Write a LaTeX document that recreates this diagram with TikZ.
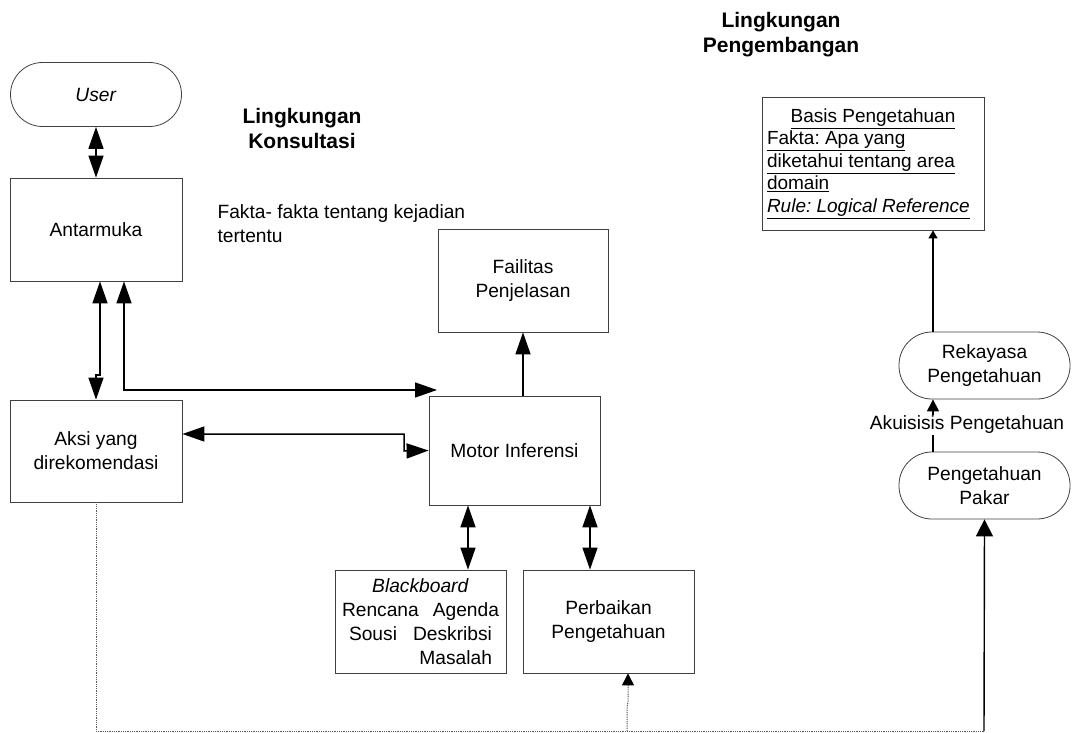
\documentclass[tikz,border=0pt]{standalone}
\usepackage{fontspec}
\setmainfont{Liberation Sans}
\usetikzlibrary{arrows.meta}
\frenchspacing
\begin{document}
\begin{tikzpicture}[x=1pt,y=-1pt,
  every node/.style={font=\fontsize{19.2}{24}\selectfont},
  box/.style={draw=black!75, line width=0.8pt, align=center, inner sep=2pt},
  term/.style={box, rounded corners=32pt},
  conn/.style={line width=1.5pt, black},
  both/.style={conn, {Triangle[length=22pt,width=15pt]}-{Triangle[length=22pt,width=15pt]}},
  fwd/.style={conn, -{Triangle[length=22pt,width=15pt]}},
  dots/.style={black!65, line width=1pt, dash pattern=on 1pt off 0.8pt},
  lbl/.style={align=center, font=\fontsize{21}{25}\selectfont\bfseries}
]
\useasboundingbox (0,0) rectangle (1073,733);

% nodes
\node[term, minimum width=171pt, minimum height=64pt] (user) at (96,94.5) {\textit{User}};
\node[box, minimum width=172pt, minimum height=103pt] (ant) at (96,229.5) {Antarmuka};
\node[box, minimum width=172pt, minimum height=102pt] (aksi) at (96,451) {Aksi yang\\direkomendasi};
\node[box, minimum width=170pt, minimum height=103pt] (fail) at (523,280.5) {Failitas\\Penjelasan};
\node[box, minimum width=171pt, minimum height=109pt] (motor) at (514.5,450.5) {Motor Inferensi};
\node[box, minimum width=171pt, minimum height=103pt] (bb) at (420.5,621.5)
  {\textit{Blackboard}\\\makebox[157pt]{Rencana\hfill Agenda}\\\makebox[143pt]{Sousi\hfill Deskribsi}\\\makebox[143pt][r]{Masalah}};
\node[box, minimum width=171pt, minimum height=103pt] (perb) at (608.5,621.5) {Perbaikan\\Pengetahuan};
\node[box, minimum width=222pt, minimum height=133pt, align=left, font=\fontsize{19}{22.5}\selectfont] (basis) at (873,163.5)
  {\makebox[212pt]{\underline{Basis Pengetahuan}}\\\underline{Fakta: Apa yang}\\\underline{diketahui tentang area}\\\underline{domain}\\\underline{\textit{Rule: Logical Reference}}};
\node[term, rounded corners=33pt, minimum width=171pt, minimum height=67pt] (rek) at (984.5,365.5) {Rekayasa\\Pengetahuan};
\node[term, rounded corners=33pt, minimum width=171pt, minimum height=67pt] (pakar) at (984.5,485.5) {Pengetahuan\\Pakar};

% labels
\node[lbl] (lk) at (302,128) {Lingkungan\\Konsultasi};
\node[lbl] (lp) at (781,35) {Lingkungan\\Pengembangan};
\node[align=left, anchor=north west] (fakta) at (214,201) {Fakta- fakta tentang kejadian\\tertentu};

% connectors
\draw[both] (user.south) -- (ant.north);
\draw[both] ([xshift=4pt]ant.south) -- ([xshift=4pt]ant.south |- 0,375) -- (aksi.north |- 0,375) -- (aksi.north);
\coordinate (mtop) at (437,390);
\draw[both] ([xshift=28pt]ant.south) |- (mtop);
\draw[both] ([yshift=17pt]aksi.east) -- (404,434) -- (404,451) -- (motor.west);
\draw[fwd] (motor.north -| fail.south) -- (fail.south);
\draw[both] (motor.south -| 468,0) -- (bb.north -| 468,0);
\draw[both] (motor.south -| 590,0) -- (perb.north -| 590,0);
\draw[conn, line width=1.2pt, -{Triangle[length=8pt,width=9pt]}] (rek.north -| 933,0) -- (basis.south -| 933,0);
\node[fill=white, inner sep=1pt] (akuis) at (967,425) {Akuisisis Pengetahuan};
\draw[conn, line width=1.2pt] (pakar.north -| 933,0) -- (akuis.south -| 933,0);
\draw[conn, line width=1.2pt, -{Triangle[length=12pt,width=12pt]}] (akuis.north -| 933,0) -- (rek.south -| 933,0);

\coordinate (bl) at (96,731);
\coordinate (br) at (984,731);
\coordinate (bm) at (627,731);
\draw[dots] (aksi.south) -- (bl) -- (br);
\draw[conn, line width=1.4pt, -{Triangle[length=17pt,width=17pt]}] (br) -- (pakar.south);
\draw[dots, -{Triangle[length=12pt,width=12pt,color=black]}] (bm) -- (627,707) -- (628,702) -- ([xshift=19.5pt]perb.south);
\end{tikzpicture}
\end{document}
